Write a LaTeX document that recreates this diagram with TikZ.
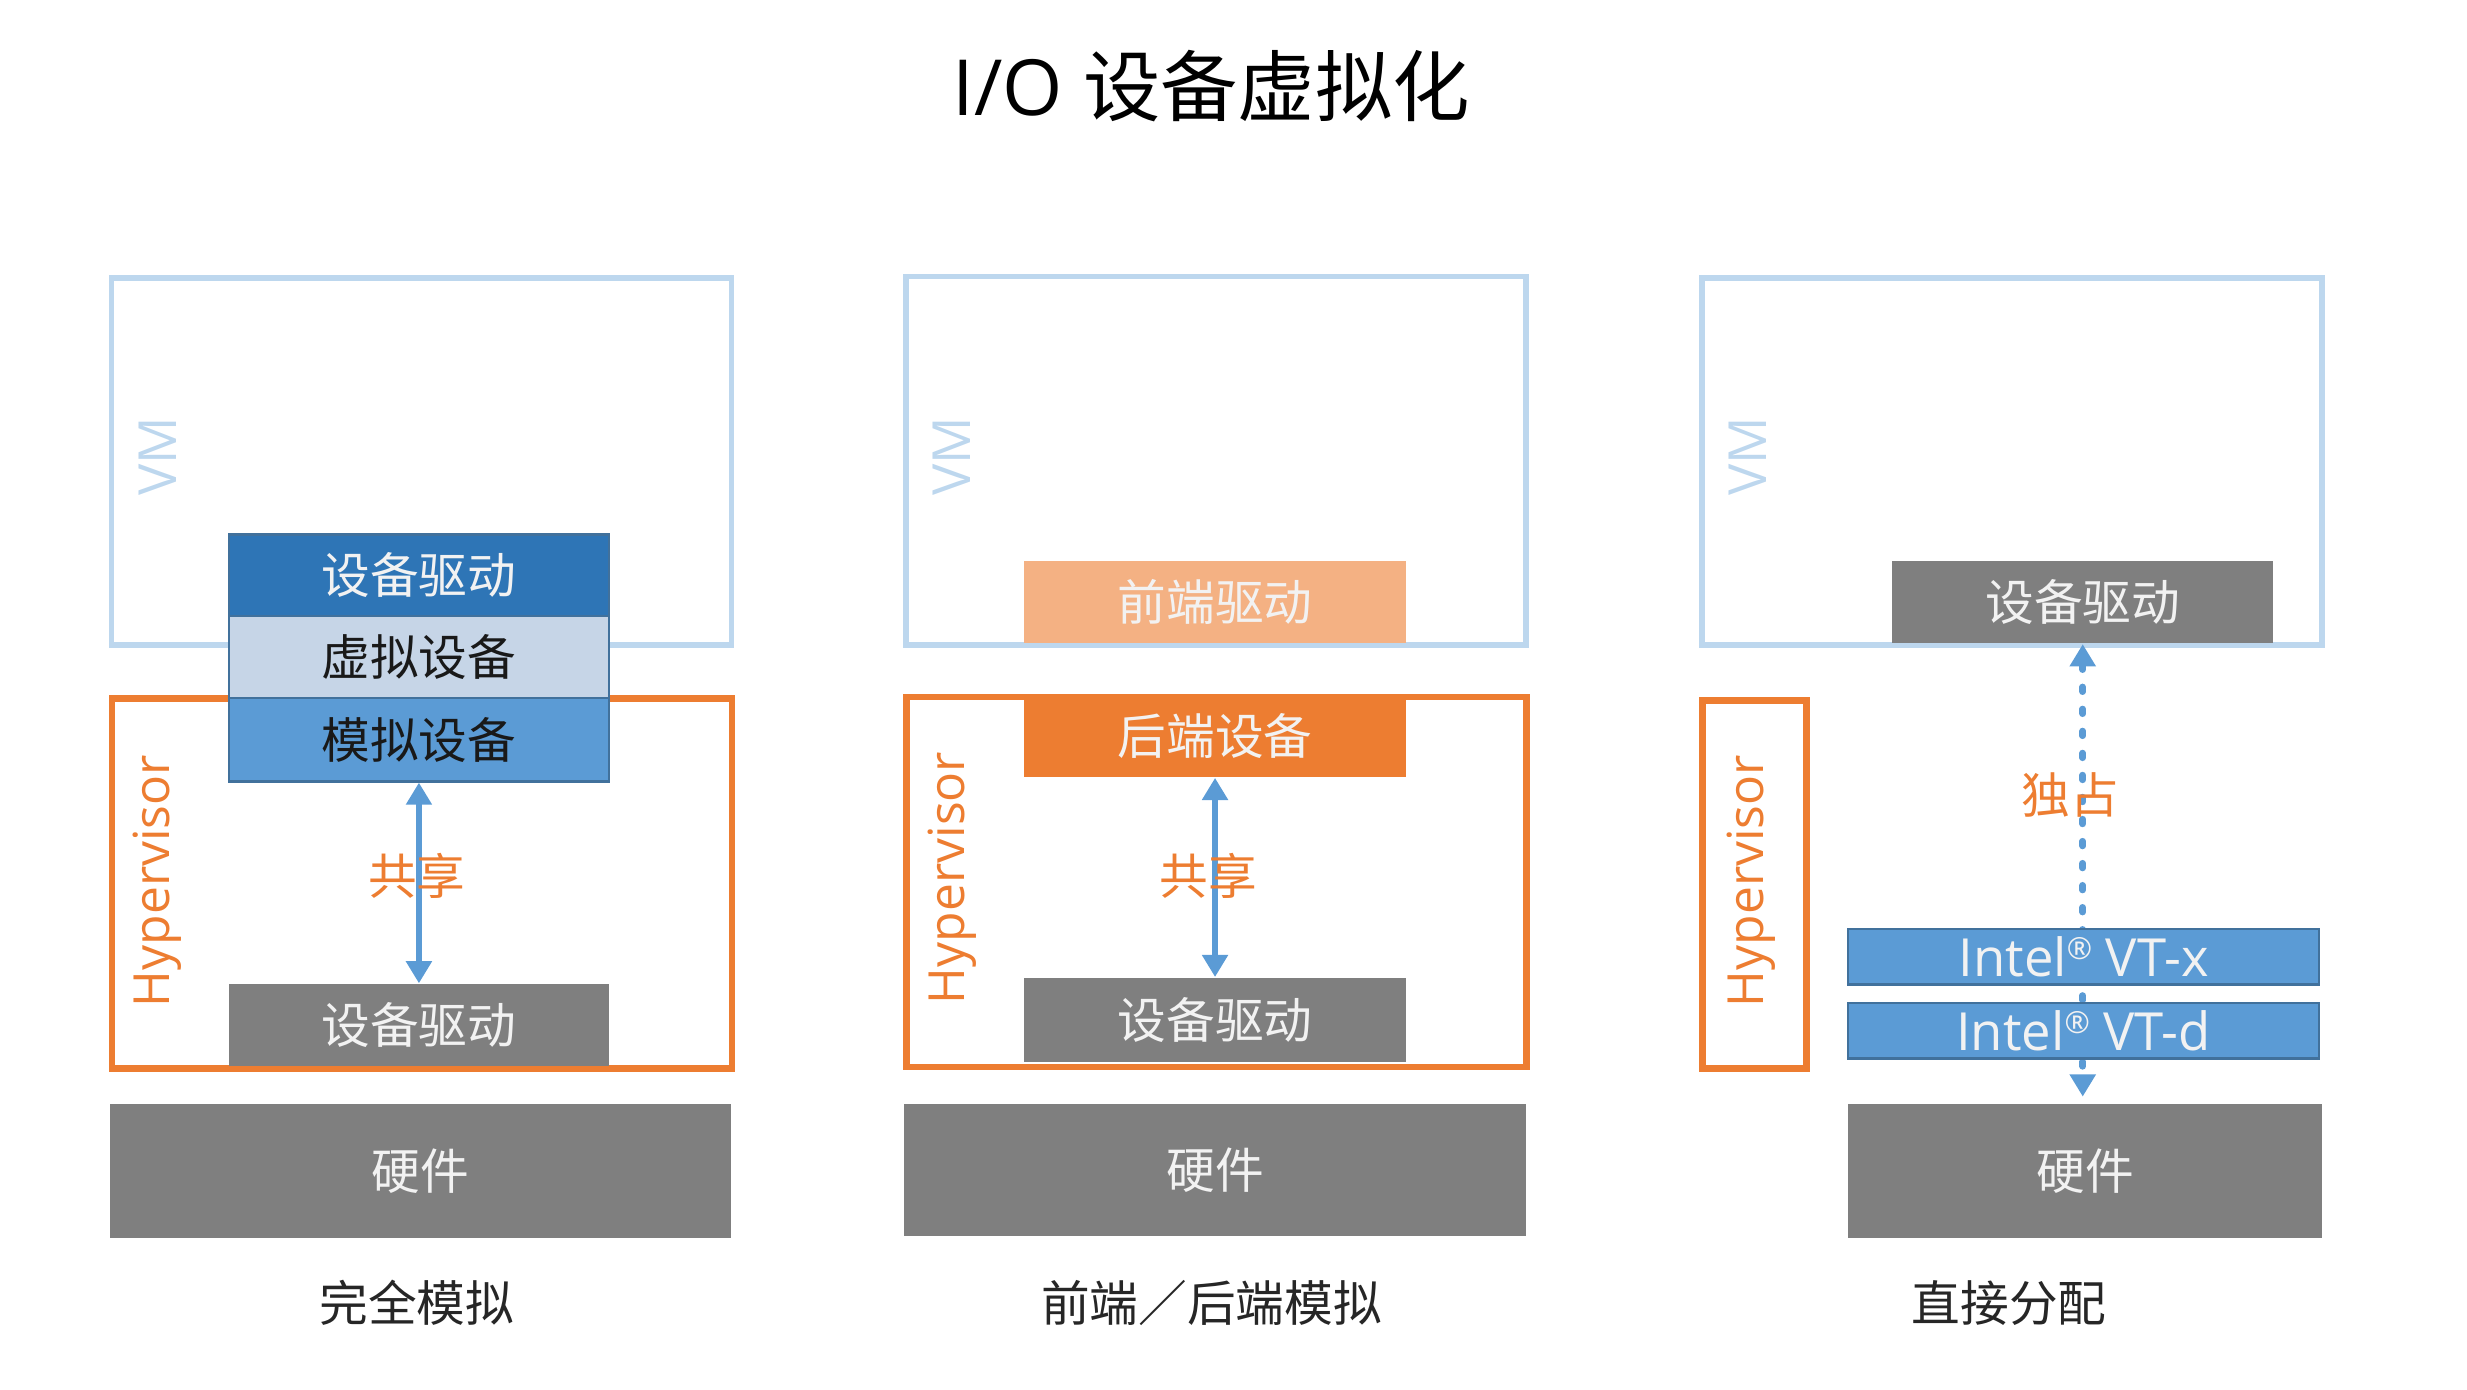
\documentclass[tikz,border=0pt]{standalone}
\usepackage{fontspec}
\setmainfont{Open Sans}
\newfontfamily\cjk{Noto Sans CJK SC}
\usepackage{tikz}
\usetikzlibrary{arrows.meta}
\definecolor{vmblue}{HTML}{BDD7EE}
\definecolor{hyporange}{HTML}{ED7D31}
\definecolor{darkblue}{HTML}{2E75B6}
\definecolor{midblue}{HTML}{5B9BD5}
\definecolor{edgeblue}{HTML}{41719C}
\definecolor{dotblue}{HTML}{C6D5E7}
\definecolor{boxgray}{HTML}{7F7F7F}
\definecolor{lightorange}{HTML}{F4B183}
\newcommand{\regmark}{\raisebox{0.32em}{\fontsize{5.5}{6}\selectfont ®}}
\tikzset{
    frame/.style={rectangle, anchor=north west, inner sep=0pt},
    vmframe/.style={frame, draw=vmblue, line width=1pt, minimum width=3.94cm, minimum height=2.33cm},
    hypframe/.style={frame, draw=hyporange, line width=1.2pt, minimum width=3.94cm, minimum height=2.35cm},
    block/.style={rectangle, anchor=north west, inner sep=0pt, minimum width=2.41cm, minimum height=0.52cm, font=\cjk\fontsize{8.8}{10}\selectfont, text=white!95!black},
    hwbox/.style={block, fill=boxgray, minimum width=3.95cm, minimum height=0.85cm},
    caption/.style={font=\cjk\fontsize{8.8}{10}\selectfont, text=black!85}
}

\begin{document}
\begin{tikzpicture}[
    x=0.01cm, y=-0.01cm,
    vmlabel/.style={rotate=90, text=vmblue, font=\fontsize{9.5}{10}\selectfont},
    hyplabel/.style={rotate=90, text=hyporange, font=\fontsize{9}{10}\selectfont},
    share/.style={font=\cjk\fontsize{8.8}{10}\selectfont, text=hyporange},
    arrow/.style={draw=midblue, line width=1pt, {Triangle[width=4.5pt,length=4pt]}-{Triangle[width=4.5pt,length=4pt]}},
    dotarrow/.style={arrow, line width=1.2pt, line cap=round, dash pattern=on 0.03cm off 0.11cm}
]
    \useasboundingbox (0,0) rectangle (1568,883);
    \node[font=\fontsize{14}{16}\selectfont] (title) at (770,55) {I/O {\cjk 设备虚拟化}};

    % full emulation
    \node[vmframe] (vm1) at (69,175) {};
    \node[hypframe] (hyp1) at (69,442) {};
    \node[vmlabel] (vmt1) at (100,290) {VM};
    \node[hyplabel] (hypt1) at (100,560) {Hypervisor};
    \node[block, fill=darkblue, draw=edgeblue, line width=0.4pt] (drv1) at (145,339) {设备驱动};
    \node[block, fill=dotblue, draw=edgeblue, line width=0.4pt, text=black!90] (vdev1) at (145,391) {虚拟设备};
    \node[block, fill=midblue, draw=edgeblue, line width=0.4pt, minimum height=0.53cm, text=black!90] (emu1) at (145,443) {模拟设备};
    \node[block, fill=boxgray] (hdrv1) at (145,625) {设备驱动};
    \node[hwbox] (hw1) at (69,701) {硬件};
    \draw[arrow] (emu1.south) -- (hdrv1.north);
    \node[share] (sh1) at (265,557) {共享};
    \node[caption] (cap1) at (265,828) {完全模拟};

    % front-end / back-end
    \node[vmframe, minimum height=2.34cm] (vm2) at (574,174) {};
    \node[hypframe] (hyp2) at (574,441) {};
    \node[vmlabel] (vmt2) at (605,290) {VM};
    \node[hyplabel] (hypt2) at (605,558) {Hypervisor};
    \node[block, fill=lightorange, minimum width=2.43cm] (fe2) at (650,356) {前端驱动};
    \node[block, fill=hyporange, minimum width=2.43cm] (be2) at (650,441) {后端设备};
    \node[block, fill=boxgray, minimum width=2.43cm, minimum height=0.53cm] (hdrv2) at (650,621) {设备驱动};
    \node[hwbox, minimum height=0.84cm] (hw2) at (574,701) {硬件};
    \draw[arrow] (be2.south) -- (hdrv2.north);
    \node[share] (sh2) at (768,557) {共享};
    \node[caption] (cap2) at (770,828) {前端／后端模拟};

    % direct assignment
    \node[vmframe] (vm3) at (1080,175) {};
    \node[hypframe, minimum width=0.66cm, minimum height=2.34cm] (hyp3) at (1080,443) {};
    \node[vmlabel] (vmt3) at (1111,290) {VM};
    \node[hyplabel] (hypt3) at (1113,560) {Hypervisor};
    \node[block, fill=boxgray, minimum width=2.42cm] (drv3) at (1202,356) {设备驱动};
    \node[hwbox, minimum width=3.01cm] (hw3) at (1174,701) {硬件};
    \draw[dotarrow, shorten >=0.04cm] (drv3.south) -- (drv3.south |- hw3.north);
    \node[block, fill=midblue, draw=edgeblue, line width=0.4pt, minimum width=2.99cm, minimum height=0.35cm, font=\fontsize{9.5}{10}\selectfont] (vtx) at (1174,590) {Intel\regmark{} VT-x};
    \node[block, fill=midblue, draw=edgeblue, line width=0.4pt, minimum width=2.99cm, minimum height=0.35cm, font=\fontsize{9.5}{10}\selectfont] (vtd) at (1174,637) {Intel\regmark{} VT-d};
    \node[share] (own3) at (1316,505) {独占};
    \node[caption] (cap3) at (1277,828) {直接分配};
\end{tikzpicture}
\end{document}
